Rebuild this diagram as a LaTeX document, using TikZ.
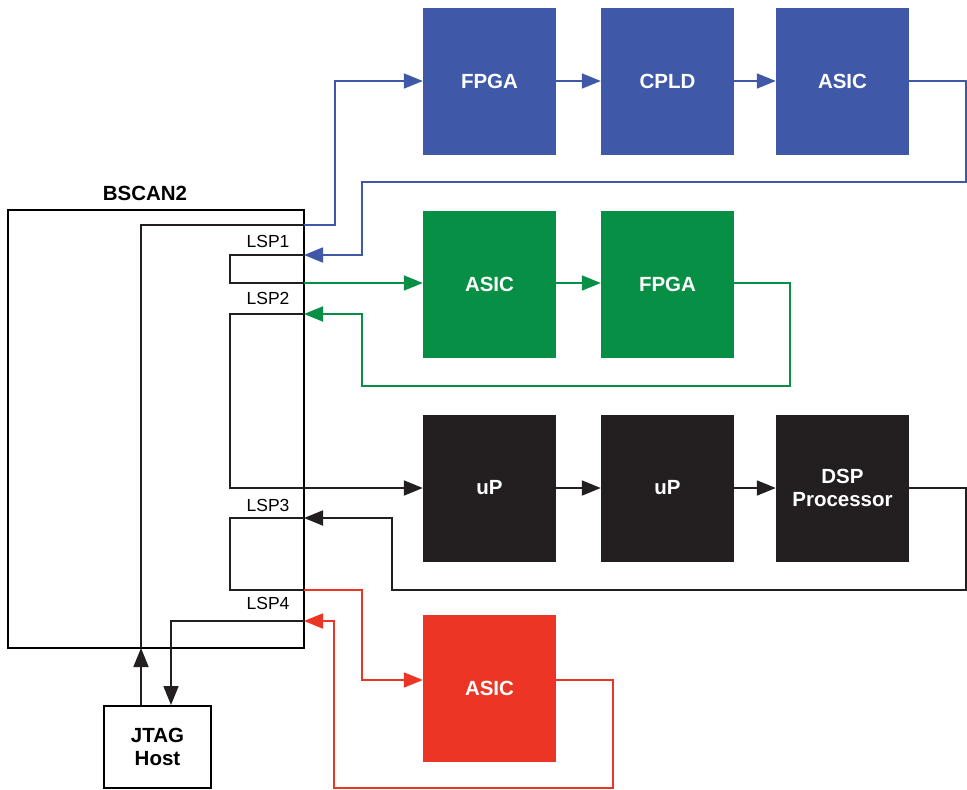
\documentclass[tikz,border=0pt]{standalone}
\usepackage{fontspec}
\setmainfont{Liberation Sans}
\usetikzlibrary{arrows.meta,calc}
\definecolor{cblue}{HTML}{3F58A8}
\definecolor{cgreen}{HTML}{078F45}
\definecolor{cblack}{HTML}{231F20}
\definecolor{cred}{HTML}{EC3524}
\tikzset{
  chip/.style={minimum width=133pt,minimum height=147pt,inner sep=0pt,text=white,font=\fontsize{20.5}{23}\selectfont\bfseries,align=center,draw=none},
  wire/.style={line width=1.8pt},
  arr/.style={wire,-{Triangle[length=19pt,width=15pt]}},
  lsp/.style={font=\fontsize{17.5}{20}\selectfont,inner sep=0pt},
  frame/.style={draw=black,line width=2pt,inner sep=0pt}
}
\begin{document}
\begin{tikzpicture}[x=1pt,y=-1pt]
\useasboundingbox (0,0) rectangle (967,790);
% BSCAN2 box
\node[frame,minimum width=296pt,minimum height=438pt] (bscan) at (156,429) {};
\node[font=\fontsize{20.5}{23}\selectfont\bfseries,inner sep=0pt] (btitle) at (145,193) {BSCAN2};
% JTAG host
\node[frame,minimum width=107pt,minimum height=82pt,align=center,font=\fontsize{20.5}{23}\selectfont\bfseries] (jtag) at (157.5,747) {JTAG\\Host};
% LSP labels
\node[lsp] (l1) at (268,241) {LSP1};
\node[lsp] (l2) at (268,298) {LSP2};
\node[lsp] (l3) at (268,505) {LSP3};
\node[lsp] (l4) at (268,603) {LSP4};
% ports
\coordinate (p0) at (304,225);
\coordinate (p1in) at (304,255);
\coordinate (p1out) at (304,283);
\coordinate (p2in) at (304,314);
\coordinate (p3in) at (304,518);
\coordinate (p3out) at (304,590);
\coordinate (p4in) at (304,621);
\coordinate (jin) at (141,648);
\coordinate (rin) at (362,680);
% chips
\node[chip,fill=cblue] (b1) at (489.5,81) {FPGA};
\node[chip,fill=cblue] (b2) at (667.5,81) {CPLD};
\node[chip,fill=cblue] (b3) at (842.5,81) {ASIC};
\node[chip,fill=cgreen] (g1) at (489.5,284) {ASIC};
\node[chip,fill=cgreen] (g2) at (667.5,284) {FPGA};
\node[chip,fill=cblack] (k1) at (489.5,488) {uP};
\node[chip,fill=cblack] (k2) at (667.5,488) {uP};
\node[chip,fill=cblack] (k3) at (842.5,488) {DSP\\Processor};
\node[chip,fill=cred] (r1) at (489.5,688) {ASIC};
% JTAG to BSCAN
\draw[arr,cblack] (jtag.north -| jin) -- (jin);
\draw[wire,cblack] (jin) -- (141,225) -- (p0);
% blue chain
\draw[arr,cblue] (p0) -- (335,225) |- (b1.west);
\draw[arr,cblue] (b1) -- (b2);
\draw[arr,cblue] (b2) -- (b3);
\draw[arr,cblue] (b3.east) -- (966,81) -- (966,182) -- (362,182) |- (p1in);
\draw[wire,cblack] (p1in) -- (230,255) -- (230,283) -- (p1out);
% green chain
\draw[arr,cgreen] (p1out) -- (g1.west |- p1out);
\draw[arr,cgreen] (g1.east |- p1out) -- (g2.west |- p1out);
\draw[arr,cgreen] (g2.east |- p1out) -- (790,283) -- (790,386) -- (362,386) |- (p2in);
\draw[arr,cblack] (p2in) -- (230,314) |- (k1.west);
% black chain
\draw[arr,cblack] (k1) -- (k2);
\draw[arr,cblack] (k2) -- (k3);
\draw[arr,cblack] (k3.east) -- (966,488) -- (966,590) -- (392,590) |- (p3in);
\draw[wire,cblack] (p3in) -- (230,518) -- (230,590) -- (p3out);
% red chain
\draw[arr,cred] (p3out) -- (362,590) -- (rin) -- (r1.west |- rin);
\draw[arr,cred] (r1.east |- rin) -- (613,680) -- (613,788) -- (334,788) |- (p4in);
\draw[arr,cblack] (p4in) -- (171,621) -- (jtag.north -| 171,0);
\end{tikzpicture}
\end{document}
